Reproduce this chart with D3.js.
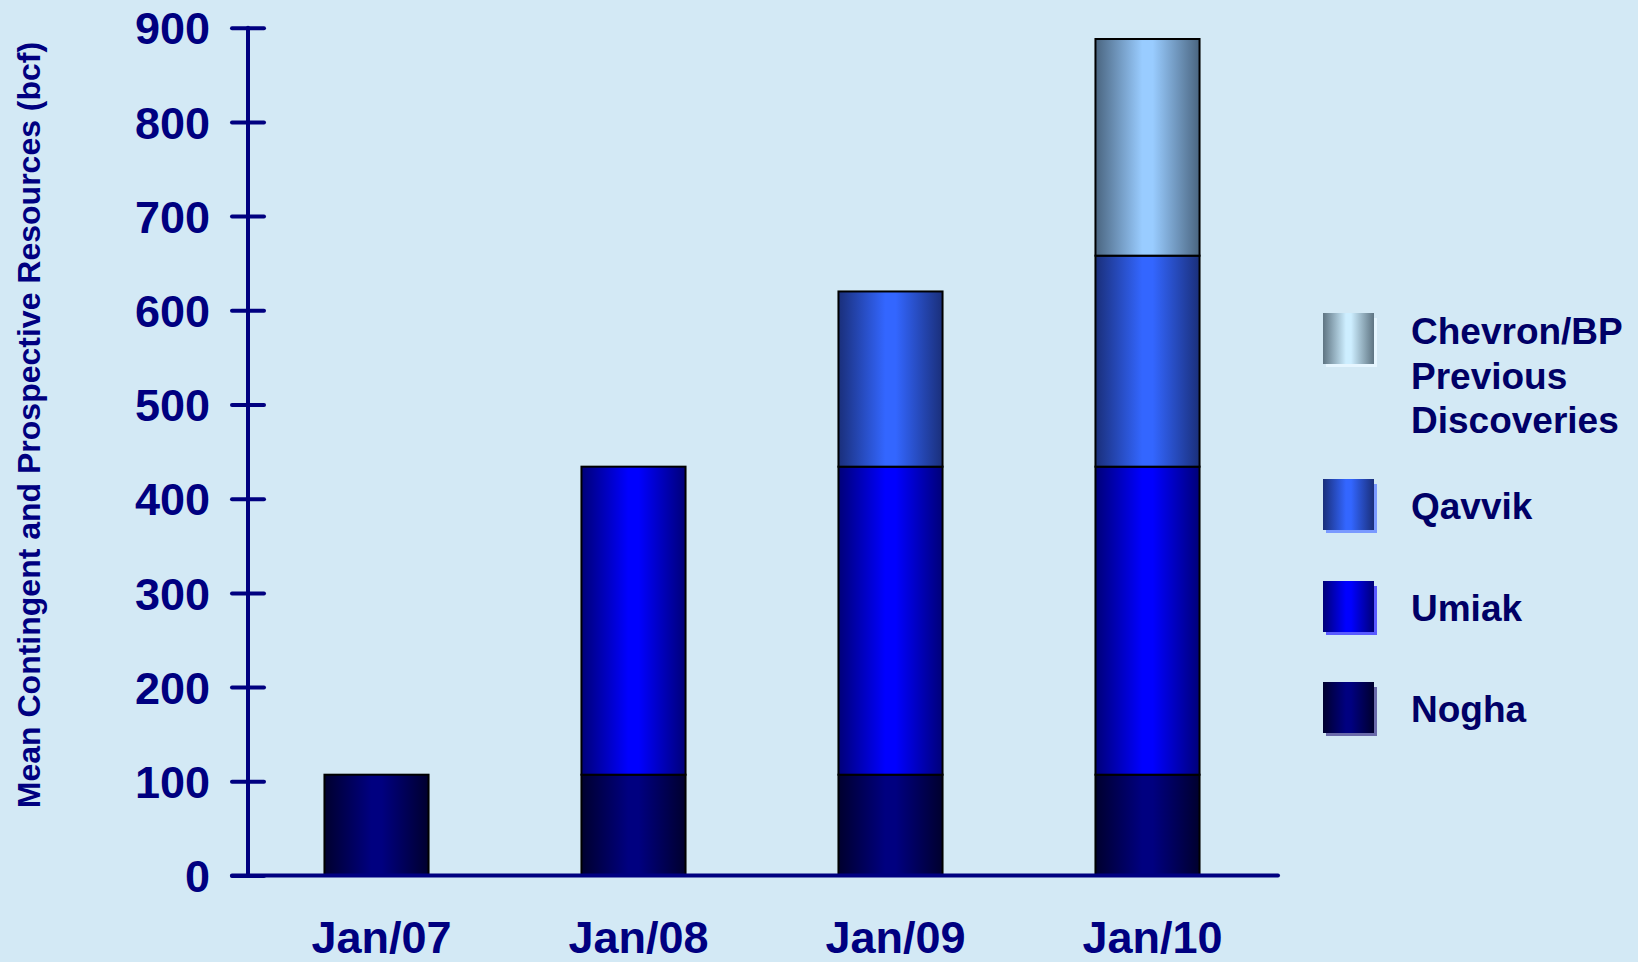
<!DOCTYPE html>
<html>
<head>
<meta charset="utf-8">
<script src="https://cdn.jsdelivr.net/npm/d3@7"></script>
<style>
  html, body { margin: 0; padding: 0; background: #d3e9f5; }
  svg { display: block; }
  text { font-family: "Liberation Sans", Arial, sans-serif; font-weight: bold; }
</style>
</head>
<body>
<svg id="chart" width="1638" height="962"></svg>
<script>
// ---- data ----
const categories = ["Jan/07", "Jan/08", "Jan/09", "Jan/10"];
const nogha   = [107, 107, 107, 107];
const umiak   = [0, 327, 327, 327];
const qavvik  = [0, 0, 186, 224];
const chevron = [0, 0, 0, 230];
const seriesNames = ["Nogha", "Umiak", "Qavvik", "Chevron/BP Previous Discoveries"];
const yTicks = [0, 100, 200, 300, 400, 500, 600, 700, 800, 900];
const yTitle = "Mean Contingent and Prospective Resources (bcf)";

// ---- styles ----
const grads = {
  "Nogha":   { edge: "#00002e", mid: "#000080", shadow: "#6a6aaa" },
  "Umiak":   { edge: "#000078", mid: "#0000ff", shadow: "#5a5aff" },
  "Qavvik":  { edge: "#1a2f7a", mid: "#3366ff", shadow: "#7a9aff" },
  "Chevron/BP Previous Discoveries": { edge: "#4a6580", mid: "#99ccff", shadow: "#e6f6ff" }
};
const legendGrads = {
  "Chevron/BP Previous Discoveries": { edge: "#5e7482", mid: "#cdeeff" }
};

const svg = d3.select("#chart");
const W = 1638, H = 962;
svg.append("rect").attr("width", W).attr("height", H).attr("fill", "#d3e9f5");

const defs = svg.append("defs");
function makeGrad(id, edge, mid) {
  const g = defs.append("linearGradient").attr("id", id)
    .attr("x1", "0%").attr("x2", "100%").attr("y1", "0%").attr("y2", "0%");
  g.append("stop").attr("offset", "0%").attr("stop-color", edge);
  g.append("stop").attr("offset", "45%").attr("stop-color", mid);
  g.append("stop").attr("offset", "55%").attr("stop-color", mid);
  g.append("stop").attr("offset", "100%").attr("stop-color", edge);
}
seriesNames.forEach((s, i) => {
  makeGrad("g" + i, grads[s].edge, grads[s].mid);
  const lg = legendGrads[s] || grads[s];
  makeGrad("lg" + i, lg.edge, lg.mid);
});

// ---- scales ----
const x = d3.scaleBand().domain(categories).range([248, 1276])
  .paddingInner(0.595).paddingOuter(0.2975);
const y = d3.scaleLinear().domain([0, 900]).range([875.5, 27.7]);

const table = categories.map((c, i) => ({
  cat: c,
  "Nogha": nogha[i], "Umiak": umiak[i], "Qavvik": qavvik[i],
  "Chevron/BP Previous Discoveries": chevron[i]
}));
const stacked = d3.stack().keys(seriesNames)(table);

// ---- bars ----
const barG = svg.append("g");
stacked.forEach((layer, li) => {
  barG.selectAll(null).data(layer.filter(d => d[1] - d[0] > 0)).enter()
    .append("rect")
    .attr("x", d => x(d.data.cat))
    .attr("width", x.bandwidth())
    .attr("y", d => y(d[1]))
    .attr("height", d => y(d[0]) - y(d[1]))
    .attr("fill", "url(#g" + li + ")")
    .attr("stroke", "#000")
    .attr("stroke-width", 2);
});

// ---- axes ----
const navy = "#000080";
const yAxis = d3.axisLeft(y).tickValues(yTicks).tickSize(0).tickPadding(0);
const yAxisG = svg.append("g").attr("transform", "translate(248,0)").call(yAxis);
yAxisG.select(".domain").remove();
yAxisG.selectAll(".tick text")
  .attr("x", -38).attr("dy", "0.36em")
  .attr("fill", navy).style("font-size", "45px").style("font-weight", "bold")
  .style("font-family", "'Liberation Sans', Arial, sans-serif");
yAxisG.selectAll(".tick").append("line")
  .attr("x1", -16).attr("x2", 16).attr("stroke", navy)
  .attr("stroke-width", 4).attr("stroke-linecap", "round");
svg.append("line").attr("x1", 248).attr("x2", 248)
  .attr("y1", y(900)).attr("y2", y(0))
  .attr("stroke", navy).attr("stroke-width", 4).attr("stroke-linecap", "round");
svg.append("line").attr("x1", 232).attr("x2", 1278)
  .attr("y1", y(0)).attr("y2", y(0))
  .attr("stroke", navy).attr("stroke-width", 4).attr("stroke-linecap", "round");

const xAxis = d3.axisBottom(x).tickSize(0).tickPadding(0);
const xAxisG = svg.append("g").attr("transform", "translate(0," + y(0) + ")").call(xAxis);
xAxisG.select(".domain").remove();
xAxisG.selectAll(".tick text")
  .attr("y", 77).attr("dy", 0).attr("dx", 5)
  .attr("fill", navy).style("font-size", "45px").style("font-weight", "bold")
  .style("font-family", "'Liberation Sans', Arial, sans-serif");

// ---- y title ----
svg.append("text")
  .attr("transform", "translate(39.5,425) rotate(-90)")
  .attr("text-anchor", "middle")
  .attr("fill", navy).style("font-size", "32px")
  .text(yTitle);

// ---- legend ----
const legendOrder = [3, 2, 1, 0];
const swatchTops = [313, 479, 581, 682];
const legText = ["Chevron/BP", "Previous", "Discoveries"];
const lg = svg.append("g");
legendOrder.forEach((si, k) => {
  const name = seriesNames[si];
  const top = swatchTops[k];
  lg.append("rect").attr("x", 1326).attr("y", top + 5).attr("width", 51).attr("height", 49)
    .attr("fill", grads[name].shadow);
  lg.append("rect").attr("x", 1323).attr("y", top).attr("width", 51).attr("height", 51)
    .attr("fill", "url(#lg" + si + ")");
  const lines = si === 3 ? legText : [name];
  const t = lg.append("text").attr("x", 1411)
    .attr("y", lines.length > 1 ? top + 31 : top + 40)
    .attr("fill", "#000066").style("font-size", "37px");
  lines.forEach((ln, j) => {
    t.append("tspan").attr("x", 1411).attr("dy", j === 0 ? 0 : 44.5).text(ln);
  });
});
</script>
</body>
</html>
